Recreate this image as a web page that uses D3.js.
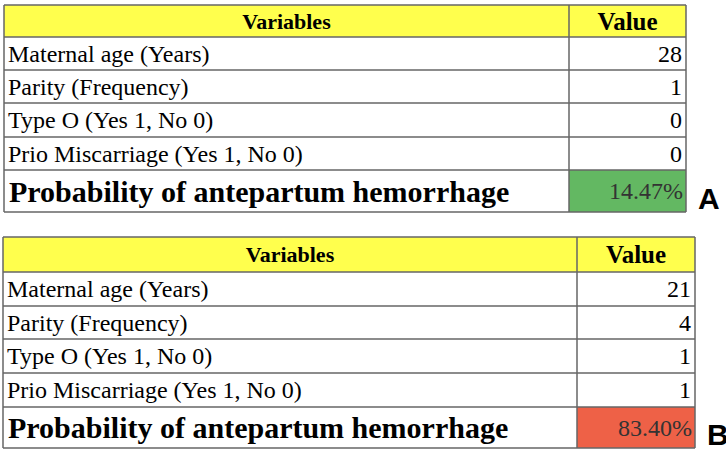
<!DOCTYPE html><html><head><meta charset="utf-8"><script src="https://cdn.jsdelivr.net/npm/d3@7"></script>
<style>body{margin:0;background:#fff}</style></head><body><svg id="c" width="726" height="453"></svg>
<script>
const variables=["Maternal age (Years)","Parity (Frequency)","Type O (Yes 1, No 0)","Prio Miscarriage (Yes 1, No 0)"];
const valuesA=[28,1,0,0];
const valuesB=[21,4,1,1];
const probLabel="Probability of antepartum hemorrhage";
const probA="14.47%", probB="83.40%";
const svg=d3.select("#c");
const tables=[
 {vals:valuesA,prob:probA,fill:"#63b862",tag:"A",x0:4,xv:569,x1:686,rows:[5,37,70,103,137,170,212]},
 {vals:valuesB,prob:probB,fill:"#ee6147",tag:"B",x0:3,xv:577,x1:695,rows:[237,272,306,339,373,407,448]}
];
const F="Liberation Serif, Times New Roman, serif";
tables.forEach(t=>{
 const g=svg.append("g"), r=t.rows;
 g.append("rect").attr("x",t.x0).attr("y",r[0]).attr("width",t.x1-t.x0).attr("height",r[1]-r[0]).attr("fill","#ffff4d");
 g.append("rect").attr("x",t.xv).attr("y",r[5]).attr("width",t.x1-t.xv).attr("height",r[6]-r[5]).attr("fill",t.fill);
 r.forEach(y=>g.append("line").attr("x1",t.x0).attr("x2",t.x1).attr("y1",y).attr("y2",y).attr("stroke","#666").attr("stroke-width",1.5));
 [t.x0,t.xv,t.x1].forEach(x=>g.append("line").attr("x1",x).attr("x2",x).attr("y1",r[0]).attr("y2",r[6]).attr("stroke","#666").attr("stroke-width",1.5));
 const mid=(a,b)=>(a+b)/2;
 g.append("text").attr("x",mid(t.x0,t.xv)).attr("y",mid(r[0],r[1])).attr("dy","0.35em").attr("text-anchor","middle").attr("font-family",F).attr("font-weight","bold").attr("font-size",22).text("Variables");
 g.append("text").attr("x",mid(t.xv,t.x1)).attr("y",mid(r[0],r[1])).attr("dy","0.35em").attr("text-anchor","middle").attr("font-family",F).attr("font-weight","bold").attr("font-size",25).text("Value");
 variables.forEach((v,i)=>{
  g.append("text").attr("x",t.x0+4).attr("y",mid(r[i+1],r[i+2])).attr("dy","0.35em").attr("font-family",F).attr("font-size",24).text(v);
  g.append("text").attr("x",t.x1-4).attr("y",mid(r[i+1],r[i+2])).attr("dy","0.35em").attr("text-anchor","end").attr("font-family",F).attr("font-size",24).text(t.vals[i]);
 });
 g.append("text").attr("x",t.x0+5).attr("y",mid(r[5],r[6])).attr("dy","0.35em").attr("font-family",F).attr("font-weight","bold").attr("font-size",30).text(probLabel);
 g.append("text").attr("x",t.x1-3).attr("y",mid(r[5],r[6])).attr("dy","0.35em").attr("text-anchor","end").attr("font-family",F).attr("font-size",24).attr("fill","#333").text(t.prob);
 g.append("text").attr("x",t.x1+12).attr("y",r[6]-3).attr("font-family","Liberation Sans, Arial, sans-serif").attr("font-weight","bold").attr("font-size",30).text(t.tag);
});
</script></body></html>
